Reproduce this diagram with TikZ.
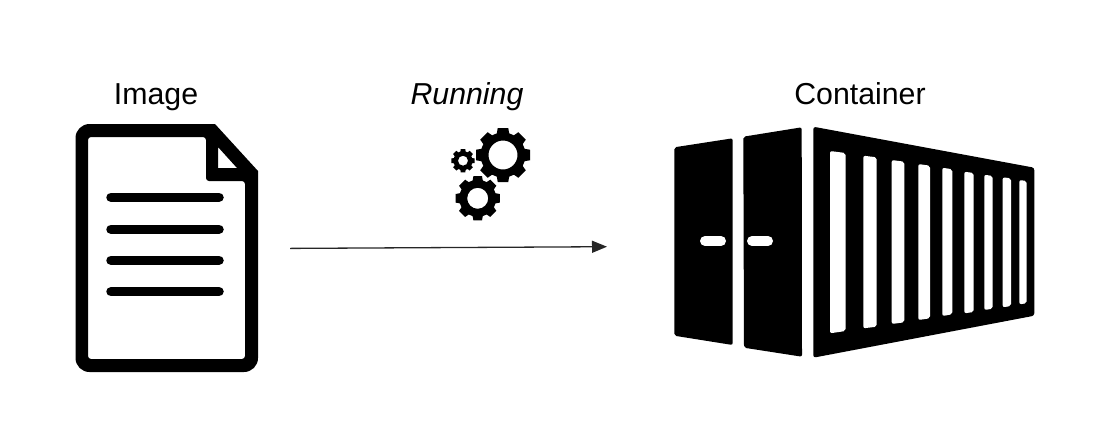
\documentclass[tikz,border=0pt]{standalone}
\usepackage{fontspec}
\setmainfont{Liberation Sans}
\usetikzlibrary{arrows.meta}
\tikzset{
  caption/.style={anchor=base,inner sep=0pt,font=\fontsize{30.3}{36}\selectfont},
  docline/.style={line width=9.5,line cap=round},
  slot/.style={fill=white,rounded corners=2},
  handle/.style={white,line width=10,line cap=round},
  flowline/.style={line width=1.3,draw=black!85,-{Triangle[length=15pt,width=12pt]}}
}
% cx, cy, root radius, tip radius, hole radius
\newcommand{\gearicon}[5]{
  \begin{scope}[shift={(#1,#2)}]
    \fill[even odd rule] (-16:#3) \foreach \a in {0,45,...,315} {-- (\a-16:#3) -- (\a-11:#4) -- (\a+11:#4) -- (\a+16:#3)} -- cycle (0,0) circle[radius=#5];
  \end{scope}
}
\begin{document}
\begin{tikzpicture}[x=1pt,y=-1pt]
  \useasboundingbox (0,0) rectangle (1108,424);
  \node[caption] (imagelabel) at (156,104) {Image};
  \node[caption] (runninglabel) at (467,104) {\itshape Running};
  \node[caption] (containerlabel) at (860,104) {Container};
  % document
  \fill[even odd rule]
    (75.5,138) arc[start angle=180,end angle=270,radius=14] -- (215,124) -- (258,171) -- (258,358) arc[start angle=0,end angle=90,radius=14] -- (89.5,372) arc[start angle=90,end angle=180,radius=14] -- cycle
    [rounded corners=3] (88,137) -- (206,137) -- (206,181) -- (245,181) -- (245,359) -- (88,359) -- cycle
    [sharp corners] (218,147) -- (218,168) -- (237,168) -- cycle;
  \foreach \y in {197.3,229.3,260.3,291.7}
    \draw[docline] (111,\y) -- (219,\y);
  % gears
  \gearicon{503}{155}{22.5}{27.5}{14.5}
  \gearicon{477.7}{198.3}{18.5}{22.5}{10.5}
  \gearicon{463}{160.7}{9.5}{11.9}{5}
  \coordinate (flowstart) at (290,248.4);
  \coordinate (flowend) at (607,246.7);
  \draw[flowline] (flowstart) -- (flowend);
  % container doors
  \fill[rounded corners=2] (674.3,147.3) -- (732.7,138.3) -- (732.7,345) -- (674.3,335.7) -- cycle;
  \fill[rounded corners=2] (743.3,136.7) -- (801.7,127.3) -- (802,356.7) -- (744,347.7) -- cycle;
  \draw[handle] (705,241) -- (721,241);
  \draw[handle] (752,241) -- (768,241);
  % container side
  \fill[rounded corners=2.5] (813.3,126.7) -- (1034.3,167.7) -- (1034.3,315.7) -- (813.3,357.7) -- cycle;
  \foreach \xa/\xb/\ya/\yb/\yc/\yd in {
    830/845.5/151/153/333.3/331,
    863.3/876.7/155.7/157.3/328.3/326.7,
    891.7/904.3/160/161.7/324/322.3,
    918.3/930/164/165.7/320/318.3,
    942.3/952.3/167.7/169.3/316/314.3,
    964.3/973.7/171.7/173/313.3/312,
    984.3/992.7/174.7/176/310/308.7,
    1002.7/1011/177.3/178.3/307.3/306,
    1019.3/1026.7/180/181/304.3/303.3}
    \fill[slot] (\xa,\ya) -- (\xb,\yb) -- (\xb,\yd) -- (\xa,\yc) -- cycle;
\end{tikzpicture}
\end{document}
